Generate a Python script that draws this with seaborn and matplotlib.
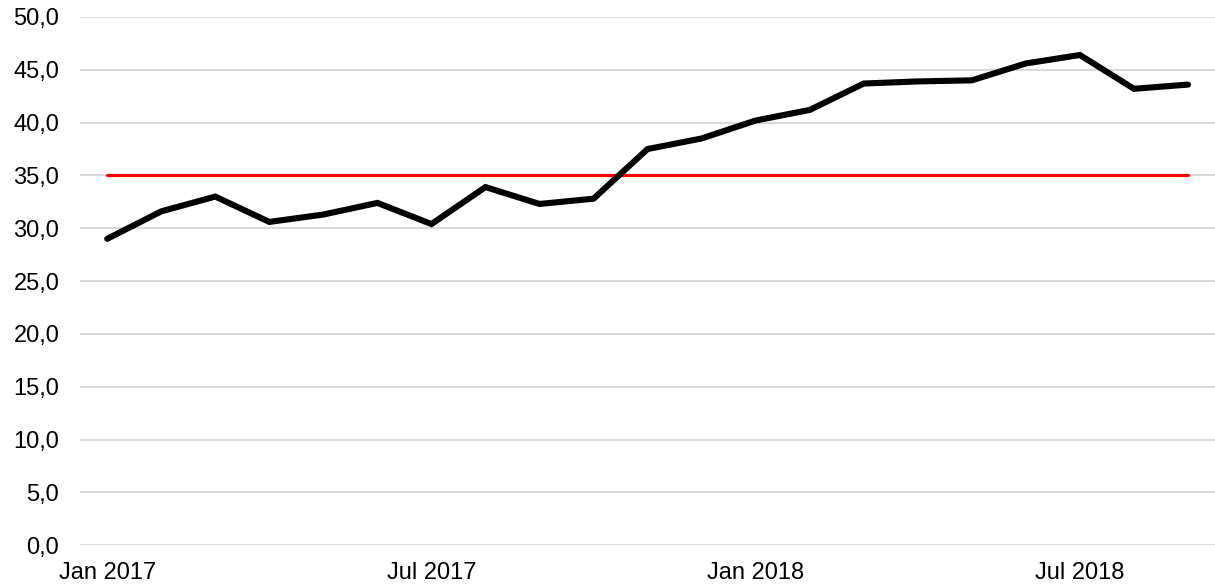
import numpy as np
import pandas as pd
import matplotlib
matplotlib.use('Agg')
import matplotlib.pyplot as plt
import seaborn as sns

# monthly series Jan 2017 .. Sep 2018
months = pd.date_range("2017-01-01", "2018-09-01", freq="MS")
values = [29.0, 31.6, 33.0, 30.6, 31.3, 32.4, 30.4, 33.9, 32.3, 32.8,
          37.5, 38.5, 40.2, 41.2, 43.7, 43.9, 44.0, 45.6, 46.4, 43.2, 43.6]
target = 35.0
tick_months = ["Jan 2017", "Jul 2017", "Jan 2018", "Jul 2018"]

sns.set_style("white")
plt.rcParams['font.family'] = ['Liberation Sans', 'DejaVu Sans']

df = pd.DataFrame({"pos": np.arange(len(months)), "value": values,
                   "target": target})

fig, ax = plt.subplots(figsize=(12.15, 5.85), dpi=100)
fig.subplots_adjust(left=0.066, right=1.0, bottom=0.068, top=0.971)

sns.lineplot(data=df, x="pos", y="target", ax=ax, color="#ff0000",
             linewidth=2.3, zorder=3)
sns.lineplot(data=df, x="pos", y="value", ax=ax, color="black",
             linewidth=4.4, zorder=4, solid_capstyle='round',
             solid_joinstyle='miter')

ax.set_xlim(-0.5, len(months) - 0.5)
ax.set_ylim(0, 50)
ax.set_yticks(np.arange(0, 51, 5))
ax.set_yticklabels([f"{v:.1f}".replace(".", ",") for v in np.arange(0, 51, 5)])
ax.yaxis.grid(True, color="#d9d9d9", linewidth=1.5, zorder=0)
ax.xaxis.grid(False)

tick_pos = [i for i, m in enumerate(months) if m.strftime("%b %Y") in tick_months]
ax.set_xticks(tick_pos)
ax.set_xticklabels([months[i].strftime("%b %Y") for i in tick_pos])

ax.tick_params(axis='y', length=0, pad=15, labelsize=17, labelcolor="black")
ax.tick_params(axis='x', length=0, pad=12, labelsize=17, labelcolor="black")
ax.set_xlabel("")
ax.set_ylabel("")
for s in ax.spines.values():
    s.set_visible(False)

fig.savefig("out.png", dpi=100)
